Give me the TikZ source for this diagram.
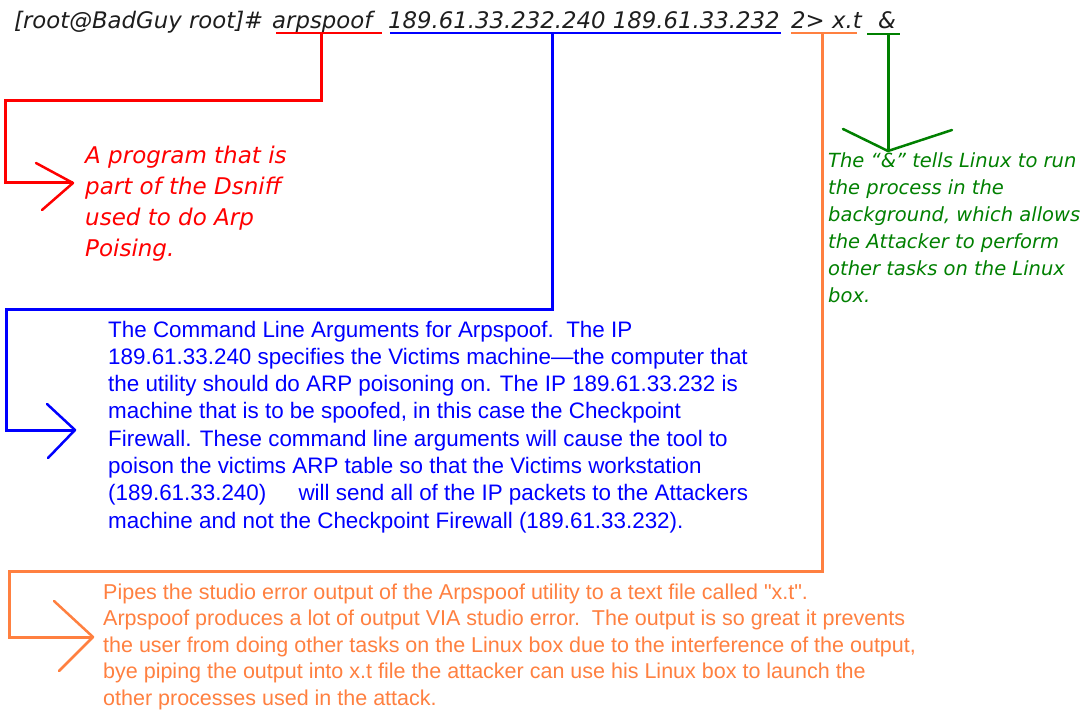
\documentclass[tikz,border=0pt]{standalone}
\usepackage{fontspec}
\newfontfamily\djv{DejaVu Sans}
\newfontfamily\lib{Liberation Sans}
\definecolor{ored}{RGB}{255,0,0}
\definecolor{oblue}{RGB}{0,0,255}
\definecolor{oorange}{RGB}{255,128,64}
\definecolor{ogreen}{RGB}{0,128,0}
\definecolor{ink}{RGB}{30,30,30}
\begin{document}
\begin{tikzpicture}[x=1pt,y=-1pt,
  cmd/.style={inner sep=0pt,anchor=base west,text=ink,font=\djv\itshape\fontsize{22.8}{27}\selectfont},
  note/.style={inner sep=0pt,anchor=base west},
  uline/.style={line width=2pt},
  lead/.style={line width=3pt,line join=miter},
  tip/.style={line width=2.5pt,line cap=round,line join=round}]
\fill[white] (0,0) rectangle (1081,711);
\useasboundingbox (0,0) rectangle (1081,711);

% command line
\node[cmd] (prompt) at (14,29) {[root@BadGuy root]\#};
\node[cmd] (prog) at (272,29) {arpspoof};
\node[cmd] (args) at (388,29) {189.61.33.232.240 189.61.33.232};
\node[cmd] (redir) at (791,29) {2> x.t};
\node[cmd] (amp) at (878,29) {\&};

% red
\coordinate (ru1) at (276,33); \coordinate (ru2) at (382,33);
\coordinate (rt) at (321,33); \coordinate (rc1) at (321,101);
\coordinate (rc2) at (5,101); \coordinate (rc3) at (5,183);
\coordinate (rtip) at (73,183);
\coordinate (ra1) at (36,163); \coordinate (ra2) at (42,210);
\draw[uline,ored] (ru1) -- (ru2);
\draw[lead,ored] (rt) -- (rc1) -- (rc2) -- (rc3) -- (rtip);
\draw[tip,ored] (ra1) -- (rtip) -- (ra2);
\node[note,text=ored,font=\djv\itshape\fontsize{23}{31}\selectfont] (redtxt) at (85,164)
  {\begin{tabular}[t]{@{}l@{}}A program that is\\part of the Dsniff\\used to do Arp\\Poising.\end{tabular}};

% blue
\coordinate (bu1) at (390,33); \coordinate (bu2) at (781,33);
\coordinate (bt) at (552,33); \coordinate (bc1) at (552,309);
\coordinate (bc2) at (6,309); \coordinate (bc3) at (6,430);
\coordinate (btip) at (75,430);
\coordinate (ba1) at (47,404); \coordinate (ba2) at (48,458);
\draw[uline,oblue] (bu1) -- (bu2);
\draw[lead,oblue] (bt) -- (bc1) -- (bc2) -- (bc3) -- (btip);
\draw[tip,oblue] (ba1) -- (btip) -- (ba2);
\node[note,text=oblue,font=\lib\fontsize{22.4}{27.3}\selectfont] (bluetxt) at (108,337)
  {\begin{tabular}[t]{@{}l@{}}The Command Line Arguments for Arpspoof.\ \ The IP\\
   189.61.33.240 specifies the Victims machine—the computer that\\
   the utility should do ARP poisoning on. The IP 189.61.33.232 is\\
   machine that is to be spoofed, in this case the Checkpoint\\
   Firewall. These command line arguments will cause the tool to\\
   poison the victims ARP table so that the Victims workstation\\
   (189.61.33.240)\hspace*{26pt} will send all of the IP packets to the Attackers\\
   machine and not the Checkpoint Firewall (189.61.33.232).\end{tabular}};

% orange
\coordinate (ou1) at (791,33); \coordinate (ou2) at (857,33);
\coordinate (ot) at (822,33); \coordinate (oc1) at (822,571);
\coordinate (oc2) at (9,571); \coordinate (oc3) at (9,637);
\coordinate (otip) at (93,637);
\coordinate (oa1) at (54,601); \coordinate (oa2) at (59,671);
\draw[uline,oorange] (ou1) -- (ou2);
\draw[lead,oorange] (ot) -- (oc1) -- (oc2) -- (oc3) -- (otip);
\draw[tip,oorange] (oa1) -- (otip) -- (oa2);
\node[note,text=oorange,font=\lib\fontsize{21.5}{26.5}\selectfont] (orangetxt) at (103,599)
  {\begin{tabular}[t]{@{}l@{}}Pipes the studio error output of the Arpspoof utility to a text file called "x.t".\\
   Arpspoof produces a lot of output VIA studio error.\ \ The output is so great it prevents\\
   the user from doing other tasks on the Linux box due to the interference of the output,\\
   bye piping the output into x.t file the attacker can use his Linux box to launch the\\
   other processes used in the attack.\end{tabular}};

% green
\coordinate (gu1) at (867,34); \coordinate (gu2) at (900,34);
\coordinate (gt) at (888,34); \coordinate (gtip) at (888,151);
\coordinate (ga1) at (843,129); \coordinate (ga2) at (952,130);
\draw[uline,ogreen] (gu1) -- (gu2);
\draw[lead,ogreen] (gt) -- (gtip);
\draw[tip,ogreen] (ga1) -- (gtip) -- (ga2);
\node[note,text=ogreen,font=\djv\itshape\fontsize{19.5}{27}\selectfont] (greentxt) at (828,168)
  {\begin{tabular}[t]{@{}l@{}}The “\&” tells Linux to run\\the process in the\\background, which allows\\the Attacker to perform\\other tasks on the Linux\\box.\end{tabular}};
\end{tikzpicture}
\end{document}
